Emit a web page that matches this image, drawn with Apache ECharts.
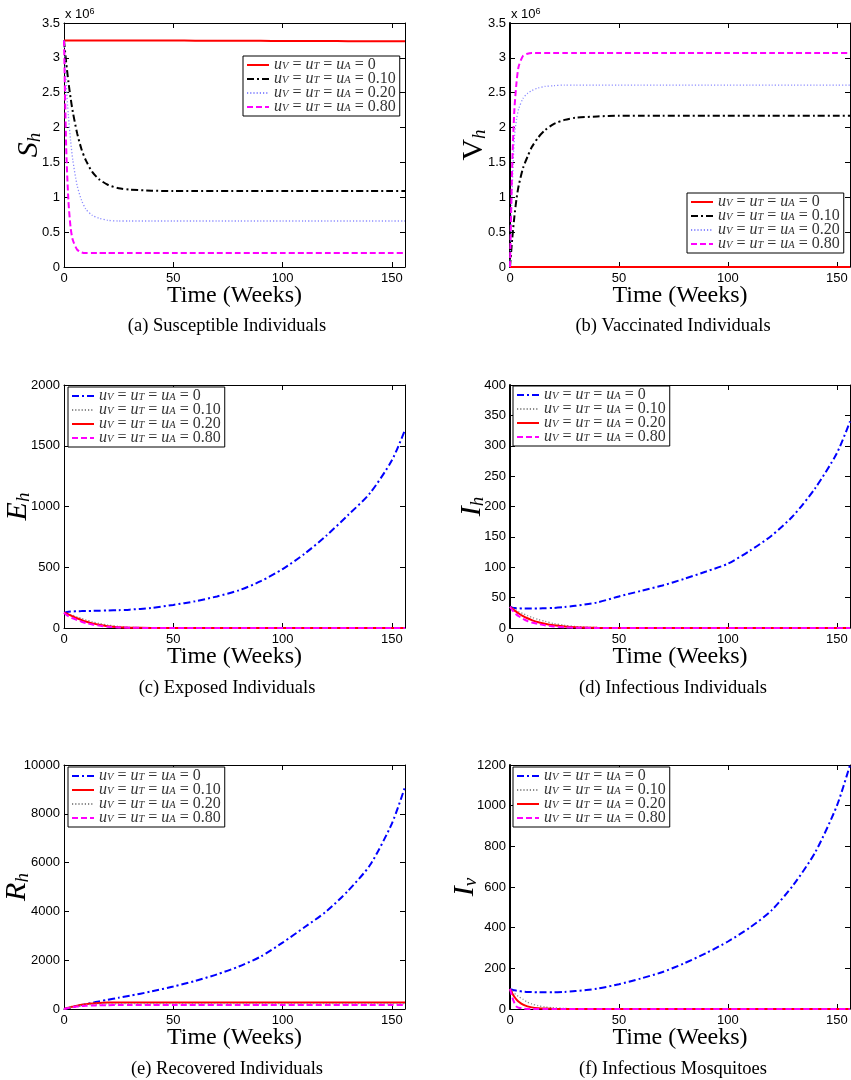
<!DOCTYPE html>
<html>
<head>
<meta charset="utf-8">
<script src="https://cdn.jsdelivr.net/npm/echarts@6/dist/echarts.min.js"></script>
<style>
html, body { margin: 0; padding: 0; background: #fff; }
#page { position: relative; width: 851px; height: 1080px; }
.panel { position: absolute; width: 425px; height: 360px; }
.right { width: 426px; }
</style>
</head>
<body>
<div id="page">
  <div class="panel" id="chart-a" style="left:0;top:0"></div>
  <div class="panel right" id="chart-b" style="left:425px;top:0"></div>
  <div class="panel" id="chart-c" style="left:0;top:360px"></div>
  <div class="panel right" id="chart-d" style="left:425px;top:360px"></div>
  <div class="panel" id="chart-e" style="left:0;top:720px"></div>
  <div class="panel right" id="chart-f" style="left:425px;top:720px"></div>
</div>
<script>
// time in weeks (shared by every curve)
var weeks = [0, 1, 2, 3, 4, 6, 8, 10, 13, 16, 20, 25, 30, 40, 50, 60, 70, 80, 90, 100, 110, 120, 130, 140, 150, 156];
var controlLevels = ["0", "0.10", "0.20", "0.80"];

// (a) susceptible humans, x 10^6
var shU0 = [3.25, 3.25, 3.25, 3.25, 3.25, 3.25, 3.25, 3.25, 3.25, 3.25, 3.25, 3.25, 3.25, 3.25, 3.248, 3.247, 3.246, 3.245, 3.244, 3.243, 3.242, 3.241, 3.24, 3.239, 3.238, 3.237];
var shU10 = [3.25, 2.93, 2.66, 2.43, 2.23, 1.92, 1.69, 1.53, 1.36, 1.26, 1.18, 1.13, 1.11, 1.095, 1.09, 1.09, 1.09, 1.09, 1.09, 1.09, 1.09, 1.09, 1.09, 1.09, 1.09, 1.09];
var shU20 = [3.25, 2.63, 2.17, 1.82, 1.54, 1.17, 0.96, 0.83, 0.74, 0.70, 0.67, 0.66, 0.66, 0.66, 0.66, 0.66, 0.66, 0.66, 0.66, 0.66, 0.66, 0.66, 0.66, 0.66, 0.66, 0.66];
var shU80 = [3.25, 1.72, 0.96, 0.57, 0.39, 0.25, 0.21, 0.20, 0.2, 0.2, 0.2, 0.2, 0.2, 0.2, 0.2, 0.2, 0.2, 0.2, 0.2, 0.2, 0.2, 0.2, 0.2, 0.2, 0.2, 0.2];

// (b) vaccinated humans, x 10^6
var vhU0 = [0, 0, 0, 0, 0, 0, 0, 0, 0, 0, 0, 0, 0, 0, 0, 0, 0, 0, 0, 0, 0, 0, 0, 0, 0, 0];
var vhU10 = [0, 0.4, 0.72, 0.98, 1.17, 1.42, 1.58, 1.72, 1.86, 1.96, 2.05, 2.11, 2.14, 2.16, 2.17, 2.17, 2.17, 2.17, 2.17, 2.17, 2.17, 2.17, 2.17, 2.17, 2.17, 2.17];
var vhU20 = [0, 1.1, 1.85, 2.12, 2.27, 2.42, 2.49, 2.53, 2.57, 2.59, 2.6, 2.61, 2.61, 2.61, 2.61, 2.61, 2.61, 2.61, 2.61, 2.61, 2.61, 2.61, 2.61, 2.61, 2.61, 2.61];
var vhU80 = [0, 1.45, 2.25, 2.65, 2.88, 3.03, 3.06, 3.07, 3.07, 3.07, 3.07, 3.07, 3.07, 3.07, 3.07, 3.07, 3.07, 3.07, 3.07, 3.07, 3.07, 3.07, 3.07, 3.07, 3.07, 3.07];

// (c) exposed humans
var ehU0 = [125, 130, 133, 135, 136, 138, 139, 140, 141, 142, 144, 147, 151, 165, 190, 220, 260, 310, 385, 485, 610, 760, 930, 1110, 1380, 1630];
var ehU10 = [125, 122, 117, 111, 105, 92, 79, 67, 51, 38, 25, 13, 6, 1, 0.2, 0, 0, 0, 0, 0, 0, 0, 0, 0, 0, 0];
var ehU20 = [125, 120, 112, 104, 96, 80, 66, 53, 38, 26, 15, 7, 3, 0.5, 0, 0, 0, 0, 0, 0, 0, 0, 0, 0, 0, 0];
var ehU80 = [125, 110, 98, 88, 80, 65, 52, 41, 29, 20, 11, 5, 2, 0.3, 0, 0, 0, 0, 0, 0, 0, 0, 0, 0, 0, 0];

// (d) infectious humans
var ihU0 = [35, 33.5, 33, 32.5, 32.5, 32, 32, 32, 32, 32.5, 33, 34.5, 36.5, 42, 52, 61, 70, 81, 93, 106, 127, 152, 185, 230, 288, 340];
var ihU10 = [35, 33, 31, 29, 27, 23.5, 20.5, 17.5, 14, 11, 7.5, 4.5, 2.5, 0.8, 0.2, 0, 0, 0, 0, 0, 0, 0, 0, 0, 0, 0];
var ihU20 = [35, 32, 29, 26.5, 24, 19.5, 16, 13, 9.5, 7, 4.5, 2.5, 1.2, 0.3, 0, 0, 0, 0, 0, 0, 0, 0, 0, 0, 0, 0];
var ihU80 = [35, 30, 25.5, 22, 19.5, 15, 11.5, 9, 6.5, 4.5, 2.5, 1.2, 0.5, 0.1, 0, 0, 0, 0, 0, 0, 0, 0, 0, 0, 0, 0];

// (e) recovered humans
var rhU0 = [0, 20, 40, 60, 80, 120, 160, 200, 255, 310, 380, 460, 540, 720, 920, 1150, 1420, 1740, 2150, 2720, 3350, 4000, 4850, 5900, 7600, 9100];
var rhU10 = [0, 25, 50, 75, 95, 135, 170, 200, 230, 250, 262, 268, 270, 270, 270, 270, 270, 270, 270, 270, 270, 270, 270, 270, 270, 270];
var rhU20 = [0, 25, 48, 70, 88, 120, 145, 165, 185, 200, 210, 215, 218, 220, 220, 220, 220, 220, 220, 220, 220, 220, 220, 220, 220, 220];
var rhU80 = [0, 24, 45, 62, 77, 100, 118, 130, 143, 152, 158, 162, 164, 165, 165, 165, 165, 165, 165, 165, 165, 165, 165, 165, 165, 165];

// (f) infectious mosquitoes
var ivU0 = [98, 95, 92, 90, 88, 86, 84, 83, 82, 82, 82, 84, 88, 100, 122, 150, 182, 225, 275, 332, 400, 485, 610, 770, 1000, 1200];
var ivU10 = [98, 88, 78, 69, 61, 48, 34, 25, 16, 10, 6, 3, 1.5, 0.3, 0, 0, 0, 0, 0, 0, 0, 0, 0, 0, 0, 0];
var ivU20 = [98, 78, 60, 46, 36, 21, 13, 8, 4, 2, 1, 0.3, 0, 0, 0, 0, 0, 0, 0, 0, 0, 0, 0, 0, 0, 0];
var ivU80 = [98, 60, 30, 12, 6, 2, 0.5, 0.1, 0, 0, 0, 0, 0, 0, 0, 0, 0, 0, 0, 0, 0, 0, 0, 0, 0, 0];

var SANS = "'Liberation Sans', Arial, sans-serif";
var SERIF = "'Liberation Serif', 'Times New Roman', serif";

// matlab-ish line styles
var redSolid = { color: "#ff0000", type: "solid", width: 2 };
var blackDashDot = { color: "#000000", type: [7, 3, 2, 3], width: 2 };
var blueDashDot = { color: "#0000ff", type: [7, 3, 2, 3], width: 2 };
var lavDotted = { color: "#8c8cff", type: [1.2, 2], width: 1.3 };
var grayDotted = { color: "#8a8a8a", type: [1.2, 2], width: 1.3 };
var magDashed = { color: "#ff00ff", type: [6, 3], width: 2 };

function pairs(vals) {
  return weeks.map(function (w, i) { return [w, vals[i]]; });
}

function legendLabel(name) {
  return "{u|u}{s|V}{e| = }{u|u}{s|T}{e| = }{u|u}{s|A}{e| = " + name + "}";
}

function makePanel(id, cfg) {
  var chart = echarts.init(document.getElementById(id));
  var tickStyle = { inside: true, length: 5, lineStyle: { color: "#000", width: 1 } };
  var lineStyle = { color: "#000", width: 1 };
  var leftLine = { color: "#000", width: cfg.leftWidth || 1 };

  var series = cfg.curves.map(function (c, i) {
    return {
      name: controlLevels[i],
      type: "line",
      data: pairs(c.data),
      symbol: "none",
      smooth: 0.25,
      lineStyle: c.style,
      itemStyle: { color: c.style.color },
      z: 2 + i
    };
  });

  var graphic = [{
    type: "text",
    x: cfg.caption.x,
    y: cfg.caption.y,
    style: {
      text: cfg.caption.text,
      fontFamily: SERIF,
      fontSize: 18.5,
      fill: "#000",
      align: "center",
      verticalAlign: "middle"
    }
  }];
  if (cfg.exponent) {
    graphic.push({
      type: "text",
      x: cfg.grid.left + 1,
      y: 7,
      style: {
        text: "{a|x 10}{b|6}",
        rich: {
          a: { fontFamily: SANS, fontSize: 13, fill: "#000", lineHeight: 14, verticalAlign: "bottom" },
          b: { fontFamily: SANS, fontSize: 9, fill: "#000", lineHeight: 6, verticalAlign: "top" }
        }
      }
    });
  }

  var grid = Object.assign({ outerBoundsMode: "none", containLabel: false }, cfg.grid);

  var option = {
    animation: false,
    grid: grid,
    xAxis: [{
      type: "value",
      min: 0,
      max: 156,
      interval: 50,
      position: "bottom",
      axisLine: { show: true, onZero: false, lineStyle: lineStyle },
      axisTick: tickStyle,
      axisLabel: { showMaxLabel: false, color: "#000", fontFamily: SANS, fontSize: 13, margin: 5 },
      splitLine: { show: false },
      name: "Time (Weeks)",
      nameLocation: "middle",
      nameMoveOverlap: false,
      nameGap: 17,
      nameTextStyle: { fontFamily: SERIF, fontSize: 24, color: "#000" }
    }, {
      type: "value",
      min: 0,
      max: 156,
      interval: 50,
      position: "top",
      axisLine: { show: true, onZero: false, lineStyle: lineStyle },
      axisTick: tickStyle,
      axisLabel: { show: false },
      splitLine: { show: false }
    }],
    yAxis: [{
      type: "value",
      min: 0,
      max: cfg.yMax,
      interval: cfg.yInterval,
      position: "left",
      axisLine: { show: true, onZero: false, lineStyle: leftLine },
      axisTick: tickStyle,
      axisLabel: {
        color: "#000", fontFamily: SANS, fontSize: 13, margin: 4,
        formatter: function (v) { return String(v); }
      },
      splitLine: { show: false },
      name: "{m|" + cfg.yName[0] + "}{s|" + cfg.yName[1] + "}",
      nameLocation: "middle",
      nameRotate: 90,
      nameMoveOverlap: false,
      nameGap: cfg.nameGap,
      nameTextStyle: {
        rich: {
          m: { fontFamily: SERIF, fontStyle: cfg.upright ? "normal" : "italic", fontSize: 30, color: "#000", lineHeight: 30 },
          s: { fontFamily: SERIF, fontStyle: "italic", fontSize: 19, color: "#000", lineHeight: 16, verticalAlign: "bottom" }
        }
      }
    }, {
      type: "value",
      min: 0,
      max: cfg.yMax,
      interval: cfg.yInterval,
      position: "right",
      axisLine: { show: true, onZero: false, lineStyle: lineStyle },
      axisTick: tickStyle,
      axisLabel: { show: false },
      splitLine: { show: false }
    }],
    legend: {
      orient: "vertical",
      left: cfg.legend.left,
      top: cfg.legend.top,
      itemWidth: 22,
      itemHeight: 12,
      itemGap: -2,
      padding: [1, 4, 1, 3],
      borderColor: "#000",
      borderWidth: 1,
      backgroundColor: "#fff",
      itemStyle: { opacity: 0 },
      data: controlLevels,
      formatter: legendLabel,
      textStyle: {
        rich: {
          u: { fontFamily: SERIF, fontStyle: "italic", fontSize: 16, color: "#333", lineHeight: 14 },
          s: { fontFamily: SERIF, fontStyle: "italic", fontSize: 10.5, color: "#333", lineHeight: 2, verticalAlign: "bottom" },
          e: { fontFamily: SERIF, fontSize: 16, color: "#333", lineHeight: 14 }
        }
      }
    },
    graphic: graphic,
    series: series
  };
  chart.setOption(option);
  return chart;
}

makePanel("chart-a", {
  grid: { left: 64, top: 23, width: 341, height: 244 },
  yMax: 3.5, yInterval: 0.5, yName: ["S", "h"], nameGap: 20, exponent: true,
  legend: { left: 243, top: 56 },
  caption: { text: "(a) Susceptible Individuals", x: 227, y: 326 },
  curves: [
    { data: shU0, style: redSolid },
    { data: shU10, style: blackDashDot },
    { data: shU20, style: lavDotted },
    { data: shU80, style: magDashed }
  ]
});

makePanel("chart-b", {
  grid: { left: 85, top: 23, width: 340, height: 244 },
  yMax: 3.5, yInterval: 0.5, yName: ["V", "h"], nameGap: 21, exponent: true, upright: true, leftWidth: 2,
  legend: { left: 262, top: 193 },
  caption: { text: "(b) Vaccinated Individuals", x: 248, y: 326 },
  curves: [
    { data: vhU0, style: redSolid },
    { data: vhU10, style: blackDashDot },
    { data: vhU20, style: lavDotted },
    { data: vhU80, style: magDashed }
  ]
});

makePanel("chart-c", {
  grid: { left: 64, top: 25, width: 341, height: 243 },
  yMax: 2000, yInterval: 500, yName: ["E", "h"], nameGap: 31,
  legend: { left: 68, top: 27 },
  caption: { text: "(c) Exposed Individuals", x: 227, y: 328 },
  curves: [
    { data: ehU0, style: blueDashDot },
    { data: ehU10, style: grayDotted },
    { data: ehU20, style: redSolid },
    { data: ehU80, style: magDashed }
  ]
});

makePanel("chart-d", {
  grid: { left: 85, top: 25, width: 340, height: 243 },
  yMax: 400, yInterval: 50, yName: ["I", "h"], nameGap: 23, leftWidth: 2,
  legend: { left: 88, top: 26 },
  caption: { text: "(d) Infectious Individuals", x: 248, y: 328 },
  curves: [
    { data: ihU0, style: blueDashDot },
    { data: ihU10, style: grayDotted },
    { data: ihU20, style: redSolid },
    { data: ihU80, style: magDashed }
  ]
});

makePanel("chart-e", {
  grid: { left: 64, top: 45, width: 341, height: 244 },
  yMax: 10000, yInterval: 2000, yName: ["R", "h"], nameGap: 32,
  legend: { left: 68, top: 47 },
  caption: { text: "(e) Recovered Individuals", x: 227, y: 349 },
  curves: [
    { data: rhU0, style: blueDashDot },
    { data: rhU10, style: redSolid },
    { data: rhU20, style: grayDotted },
    { data: rhU80, style: magDashed }
  ]
});

makePanel("chart-f", {
  grid: { left: 85, top: 45, width: 340, height: 244 },
  yMax: 1200, yInterval: 200, yName: ["I", "v"], nameGap: 30, leftWidth: 2,
  legend: { left: 88, top: 47 },
  caption: { text: "(f) Infectious Mosquitoes", x: 248, y: 349 },
  curves: [
    { data: ivU0, style: blueDashDot },
    { data: ivU10, style: grayDotted },
    { data: ivU20, style: redSolid },
    { data: ivU80, style: magDashed }
  ]
});
</script>
</body>
</html>
